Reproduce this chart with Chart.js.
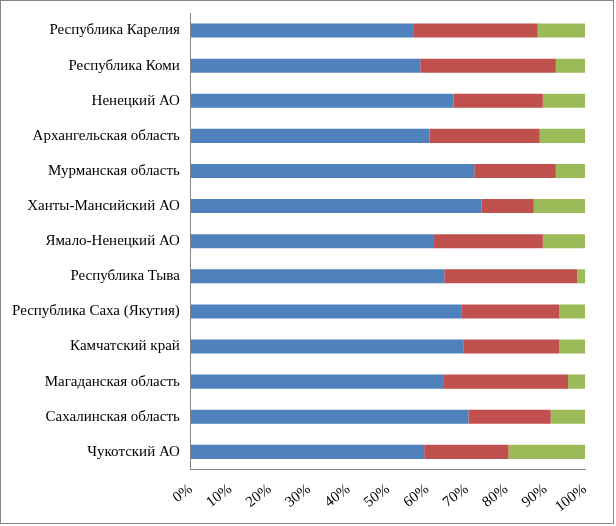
<!DOCTYPE html>
<html>
<head>
<meta charset="utf-8">
<script src="https://cdn.jsdelivr.net/npm/chart.js@4"></script>
<style>
  html, body { margin: 0; padding: 0; background: #fff; }
  #wrap { position: absolute; left: 0; top: 0; width: 612px; height: 522px; border: 1px solid #868686; }
</style>
</head>
<body>
<div id="wrap"><canvas id="c" width="612" height="522"></canvas></div>
<script>
const regions = ['Республика Карелия', 'Республика Коми', 'Ненецкий АО', 'Архангельская область',
  'Мурманская область', 'Ханты-Мансийский АО', 'Ямало-Ненецкий АО', 'Республика Тыва',
  'Республика Саха (Якутия)', 'Камчатский край', 'Магаданская область', 'Сахалинская область', 'Чукотский АО'];
const blueShare  = [56.4, 58.2, 66.6, 60.5, 71.9, 73.7, 61.7, 64.3, 68.6, 69.1, 64.0, 70.4, 59.2];
const redShare   = [31.6, 34.4, 22.7, 28.0, 20.7, 13.3, 27.6, 33.7, 24.8, 24.3, 31.7, 20.9, 21.4];
const greenShare = [12.0, 7.4, 10.7, 11.5, 7.4, 13.0, 10.7, 2.0, 6.6, 6.6, 4.3, 8.7, 19.4];

new Chart(document.getElementById('c'), {
  type: 'bar',
  data: {
    labels: regions,
    datasets: [
      { data: blueShare, backgroundColor: '#4F81BD' },
      { data: redShare, backgroundColor: '#C0504D' },
      { data: greenShare, backgroundColor: '#9BBB59' }
    ]
  },
  options: {
    indexAxis: 'y',
    responsive: false,
    animation: false,
    layout: { padding: { top: 12, right: 28, left: 8, bottom: 4 } },
    datasets: { bar: { barPercentage: 0.4, categoryPercentage: 1 } },
    plugins: { legend: { display: false }, tooltip: { enabled: false } },
    scales: {
      x: {
        stacked: true, min: 0, max: 100,
        ticks: { stepSize: 10, callback: v => v + '%', color: '#000', font: { family: 'Liberation Serif', size: 15 } },
        grid: { display: false },
        border: { color: '#868686' }
      },
      y: {
        stacked: true,
        ticks: { color: '#000', font: { family: 'Liberation Serif', size: 15 } },
        grid: { display: false },
        border: { color: '#868686' }
      }
    }
  }
});
</script>
</body>
</html>
